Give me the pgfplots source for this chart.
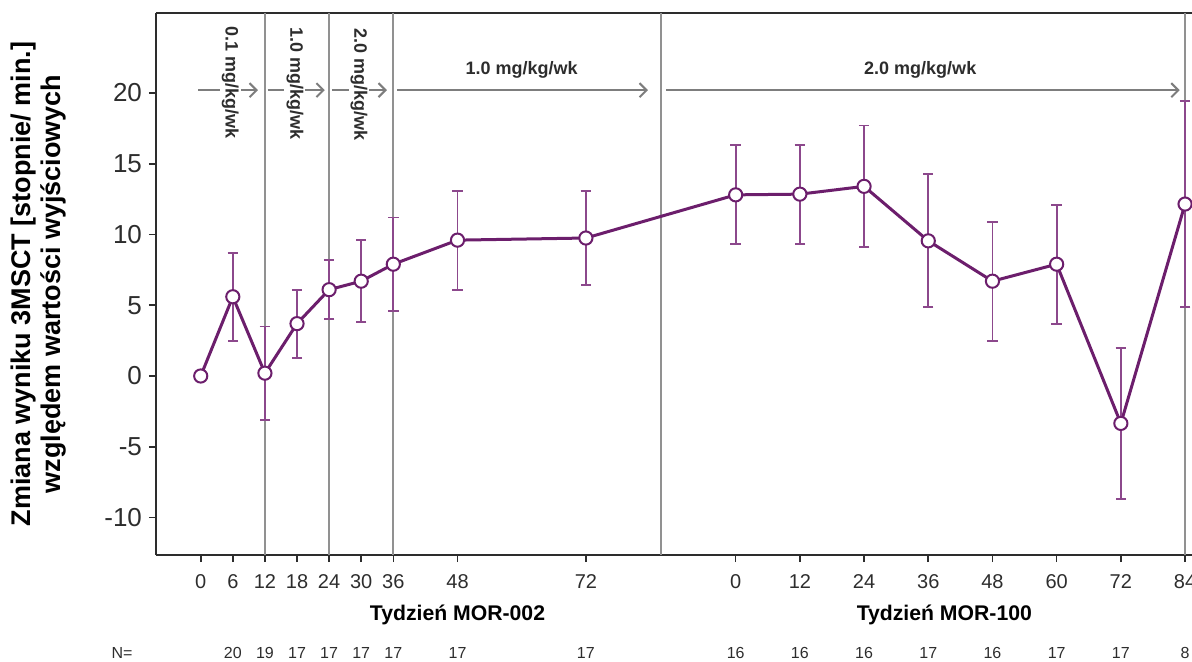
\documentclass[border=0pt]{standalone}
\usepackage{fontspec}
\setmainfont{Liberation Sans}
\usepackage{pgfplots}
\pgfplotsset{compat=1.18}
\usepackage{pgfplotstable}
\usetikzlibrary{arrows.meta}

\definecolor{plum}{RGB}{108,30,108}
\definecolor{plumbar}{RGB}{140,72,140}
\definecolor{sepgray}{RGB}{145,145,145}
\definecolor{arrgray}{RGB}{125,125,125}
\definecolor{axgray}{RGB}{45,45,45}
\definecolor{txtgray}{RGB}{45,45,45}

% x = week of MOR-002; MOR-100 weeks are shifted by 100
\pgfplotstableread{
wk   chg    se
0    0      0
6    5.6    3.1
12   0.2    3.3
18   3.7    2.4
24   6.1    2.1
30   6.7    2.9
36   7.9    3.3
48   9.6    3.5
72   9.75   3.3
100  12.8   3.5
112  12.85  3.5
124  13.4   4.3
136  9.55   4.7
148  6.7    4.2
160  7.9    4.2
172  -3.35  5.35
184  12.15  7.3
}\mscttable

\begin{document}
\begin{tikzpicture}
\begin{axis}[
  at={(0,0)}, anchor=south west,
  scale only axis, width=518pt, height=271pt,
  xmin=-8.36, xmax=185.3, ymin=-12.65, ymax=25.65,
  axis lines*=left,
  axis line style={axgray, line width=1pt},
  clip=false,
  xtick={0,6,12,18,24,30,36,48,72,100,112,124,136,148,160,172,184},
  xticklabels={0,6,12,18,24,30,36,48,72,0,12,24,36,48,60,72,84},
  ytick={-10,-5,0,5,10,15,20},
  tick align=outside, major tick length=3.5pt,
  tick style={axgray, line width=0.8pt},
  x tick label style={font=\fontsize{10}{12}\selectfont, text=txtgray, yshift=-2.5pt},
  y tick label style={font=\fontsize{13}{15}\selectfont, text=txtgray},
  /pgf/number format/assume math mode=true,
  ylabel={Zmiana wyniku 3MSCT [stopnie/ min.]\\względem wartości wyjściowych},
  ylabel style={align=center, font=\fontsize{13.5}{15}\selectfont\bfseries,
    at={(axis description cs:-0.1129,0.5)}, anchor=center},
]
% frame line along the top
\draw[axgray, line width=1pt] (rel axis cs:0,1) -- (rel axis cs:1,1);

% dosing-period separators
\pgfplotsinvokeforeach{12,24,36,86,184}{
  \draw[sepgray, line width=1pt] (axis cs:#1,-12.65) -- (axis cs:#1,25.65);
}

% dosing-period arrows
\begin{scope}[arrgray, line width=1pt, -{Straight Barb[length=3.5pt,width=7pt,line width=1pt]}]
\draw (axis cs:-0.5,20.2) -- (axis cs:10.7,20.2);
\draw (axis cs:12.5,20.2) -- (axis cs:23.2,20.2);
\draw (axis cs:24.5,20.2) -- (axis cs:34.8,20.2);
\draw (axis cs:36.7,20.2) -- (axis cs:83.6,20.2);
\draw (axis cs:87.0,20.2) -- (axis cs:183.0,20.2);
\end{scope}

% dose labels
\begin{scope}[font=\fontsize{9}{10}\selectfont\bfseries, text=txtgray]
\node[rotate=-90, anchor=west, fill=white, inner sep=1pt] at (axis cs:5.5,24.9) {0.1 mg/kg/wk};
\node[rotate=-90, anchor=west, fill=white, inner sep=1pt] at (axis cs:17.6,24.8) {1.0 mg/kg/wk};
\node[rotate=-90, anchor=west, fill=white, inner sep=1pt] at (axis cs:29.6,24.7) {2.0 mg/kg/wk};
\node at (axis cs:60,21.6) {1.0 mg/kg/wk};
\node at (axis cs:134.5,21.6) {2.0 mg/kg/wk};
\end{scope}

% mean change with error bars
\addplot[plum, line width=1.5pt, mark=*, mark size=3.3pt,
  mark options={fill=white, draw=plum, line width=1pt},
  error bars/.cd, y dir=both, y explicit,
  error bar style={plumbar, line width=0.9pt},
  error mark options={rotate=90, plumbar, mark size=2.6pt, line width=0.9pt}]
  table[x=wk, y=chg, y error=se] {\mscttable};

% study axis titles
\node[font=\fontsize{10.6}{12}\selectfont\bfseries, yshift=-30pt] at (axis cs:48,-12.65) {Tydzień MOR-002};
\node[font=\fontsize{10.6}{12}\selectfont\bfseries, yshift=-30pt] at (axis cs:139,-12.65) {Tydzień MOR-100};

% number of patients per visit
\begin{scope}[font=\fontsize{8}{9}\selectfont, text=txtgray]
\node[yshift=-49pt] at (axis cs:-14.7,-12.65) {N=};
\node[yshift=-49pt] at (axis cs:6,-12.65) {20};
\node[yshift=-49pt] at (axis cs:12,-12.65) {19};
\node[yshift=-49pt] at (axis cs:18,-12.65) {17};
\node[yshift=-49pt] at (axis cs:24,-12.65) {17};
\node[yshift=-49pt] at (axis cs:30,-12.65) {17};
\node[yshift=-49pt] at (axis cs:36,-12.65) {17};
\node[yshift=-49pt] at (axis cs:48,-12.65) {17};
\node[yshift=-49pt] at (axis cs:72,-12.65) {17};
\node[yshift=-49pt] at (axis cs:100,-12.65) {16};
\node[yshift=-49pt] at (axis cs:112,-12.65) {16};
\node[yshift=-49pt] at (axis cs:124,-12.65) {16};
\node[yshift=-49pt] at (axis cs:136,-12.65) {17};
\node[yshift=-49pt] at (axis cs:148,-12.65) {16};
\node[yshift=-49pt] at (axis cs:160,-12.65) {17};
\node[yshift=-49pt] at (axis cs:172,-12.65) {17};
\node[yshift=-49pt] at (axis cs:184,-12.65) {8};
\end{scope}
\end{axis}
\pgfresetboundingbox
\path[use as bounding box] (-78pt,-53pt) rectangle (518pt,277.5pt);
\end{tikzpicture}
\end{document}
